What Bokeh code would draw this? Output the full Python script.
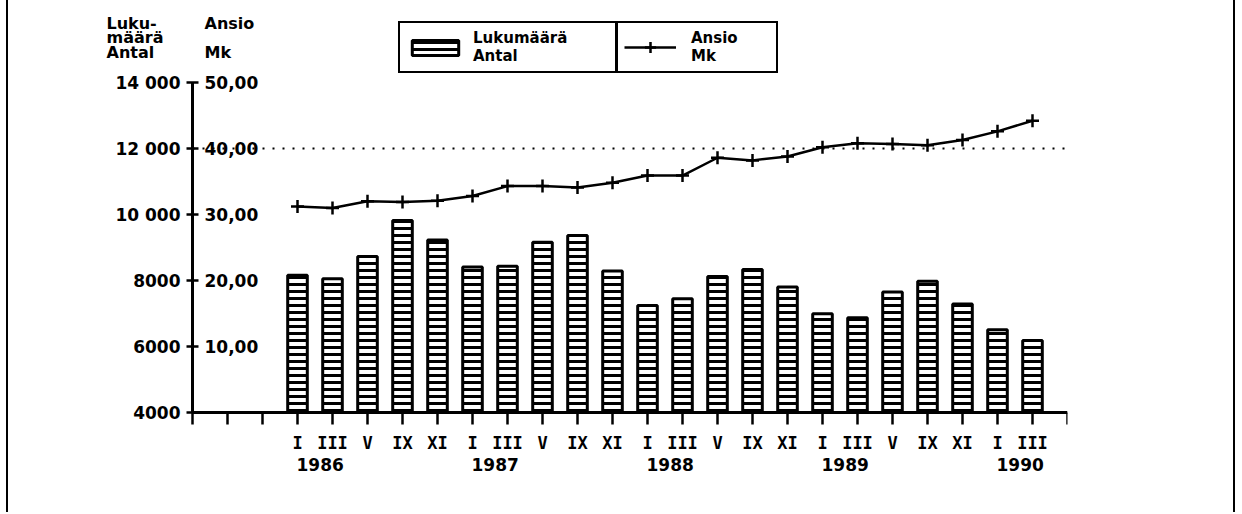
from bokeh.plotting import figure
from bokeh.models import (Range1d, LinearAxis, FixedTicker, Legend, LegendItem,
                          Label, LabelSet, ColumnDataSource)
from bokeh.core.properties import value
from bokeh.embed import file_html
from bokeh.resources import INLINE

# ---------------- data ----------------
months = ["I", "III", "V", "IX", "XI",
          "I", "III", "V", "IX", "XI",
          "I", "III", "V", "IX", "XI",
          "I", "III", "V", "IX", "XI",
          "I", "III"]
years = ["1986", "1987", "1988", "1989", "1990"]
year_start = [0, 5, 10, 15, 20]
lukumaara = [8160, 8050, 8730, 9820, 9230,
             8410, 8430, 9160, 9360, 8290,
             7240, 7450, 8120, 8330, 7800,
             6990, 6870, 7650, 7980, 7290,
             6510, 6180]
ansio = [31.2, 31.0, 32.0, 31.9, 32.1,
         32.8, 34.3, 34.3, 34.1, 34.8,
         35.9, 35.9, 38.6, 38.2, 38.8,
         40.2, 40.8, 40.7, 40.5, 41.3,
         42.6, 44.2]
count_ticks = [4000, 6000, 8000, 10000, 12000, 14000]
count_tick_labels = ["4000", "6000", "8000", "10 000", "12 000", "14 000"]
ansio_ticks = [10, 20, 30, 40, 50]
ansio_tick_labels = ["10,00", "20,00", "30,00", "40,00", "50,00"]
ref_level = 12000

# ---------------- layout ----------------
W, H = 1229, 512
FL = 80            # frame left (canvas px)
AXIS_X = 184       # where the value axis stands (canvas px)
FR = 1059          # frame right
MBB = 40           # bottom border (room for the month axis)
FB = H - MBB       # frame bottom (canvas px)
AXIS_Y = 412       # where the category axis stands (canvas px)
PX_PER_UNIT = 35.0
PX_PER_1000 = 33.0
x_lo, x_hi = -3, len(months)
x_start = x_lo - (AXIS_X - FL) / PX_PER_UNIT
base = 4000
y_start = base - (FB - AXIS_Y) / PX_PER_1000 * 1000
y_top = base + AXIS_Y / PX_PER_1000 * 1000
MK_PER_COUNT = 10.0 / 2000.0

FONT = "DejaVu Sans"
MONO = "DejaVu Sans Mono"


def sy(canvas_y):
    """canvas y (from top) -> annotation screen y (from frame bottom)"""
    return FB - canvas_y


p = figure(width=W, height=H, output_backend="svg", toolbar_location=None,
           x_range=Range1d(x_start, x_hi), y_range=Range1d(y_start, y_top),
           x_axis_type=None, y_axis_type=None,
           min_border_left=FL, min_border_right=W - FR,
           min_border_top=0, min_border_bottom=MBB)
p.extra_y_ranges = {"ansio": Range1d((y_start - base) * MK_PER_COUNT,
                                     (y_top - base) * MK_PER_COUNT)}
p.outline_line_color = None
p.background_fill_color = "white"
p.border_fill_color = "white"
p.styles = {"border-left": "2px solid black", "border-right": "2px solid black",
            "margin-left": "6px"}

xs = list(range(len(months)))
src = ColumnDataSource(dict(x=xs, count=lukumaara, ansio=ansio))

# ---------------- axes ----------------
xticks = list(range(x_lo, x_hi + 1))
xover = {t: "" for t in xticks}
for i, m in enumerate(months):
    xover[i] = m
xaxis = LinearAxis(ticker=FixedTicker(ticks=xticks), bounds=(x_lo, x_hi),
                   major_label_overrides=xover, fixed_location=base)
xaxis.axis_line_width = 3
xaxis.axis_line_color = "black"
xaxis.major_tick_line_width = 2.5
xaxis.major_tick_in = 0
xaxis.major_tick_out = 12
xaxis.minor_tick_line_color = None
xaxis.major_label_standoff = 8
xaxis.major_label_text_font = MONO
xaxis.major_label_text_font_style = "bold"
xaxis.major_label_text_font_size = "17px"
xaxis.major_label_text_color = "black"
p.add_layout(xaxis, "below")

yover = {t: l for t, l in zip(count_ticks, count_tick_labels)}
yaxis = LinearAxis(ticker=FixedTicker(ticks=count_ticks), bounds=(4000, 14000),
                   major_label_overrides=yover, fixed_location=x_lo)
yaxis.axis_line_width = 3
yaxis.axis_line_color = "black"
yaxis.major_tick_line_width = 2.5
yaxis.major_tick_in = 6
yaxis.major_tick_out = 6
yaxis.minor_tick_line_color = None
yaxis.major_label_standoff = 6
yaxis.major_label_text_font = FONT
yaxis.major_label_text_font_style = "bold"
yaxis.major_label_text_font_size = "17px"
yaxis.major_label_text_color = "black"
p.add_layout(yaxis, "left")

# dotted reference line at 12 000 / 40,00, from the value axis to the axis end
p.segment(x0=x_lo, x1=x_hi, y0=ref_level, y1=ref_level, line_color="black",
          line_width=2, line_dash="2 8")

# ---------------- glyphs ----------------
bars = p.vbar(x="x", top="count", bottom=base, width=0.56, source=src,
              fill_color="white", line_color="black", line_width=3,
              hatch_pattern="horizontal_line", hatch_color="black",
              hatch_scale=7, hatch_weight=3)
ln = p.line(x="x", y="ansio", source=src, y_range_name="ansio",
            line_color="black", line_width=2.5)
mk = p.scatter(x="x", y="ansio", source=src, y_range_name="ansio",
               marker="cross", size=13, line_color="black", line_width=2.5)

# ---------------- right-hand (Ansio) tick labels ----------------
asrc = ColumnDataSource(dict(y=ansio_ticks, text=ansio_tick_labels))
p.add_layout(LabelSet(x=x_lo, y="y", text="text", source=asrc, y_range_name="ansio",
                      x_offset=12, text_align="left", text_baseline="middle",
                      text_font=value(FONT), text_font_style="bold",
                      text_font_size="17px", text_color="black"))

# ---------------- year labels ----------------
ysrc = ColumnDataSource(dict(x=year_start, text=years))
p.add_layout(LabelSet(x="x", y=sy(464), y_units="screen", text="text", source=ysrc,
                      x_offset=-1, text_align="left", text_baseline="middle",
                      text_font=value(FONT), text_font_style="bold",
                      text_font_size="17px", text_color="black"))

# ---------------- axis titles ----------------
def title(txt, cx, cy):
    p.add_layout(Label(x=cx - FL, y=sy(cy), x_units="screen", y_units="screen",
                       text=txt, text_align="left", text_baseline="middle",
                       text_font=FONT, text_font_style="bold",
                       text_font_size="16px", text_color="black"))

title("Luku-", 98, 22.5)
title("määrä", 98, 37)
title("Antal", 98, 52)
title("Ansio", 196, 22.5)
title("Mk", 196, 52)

# ---------------- legends ----------------
common = dict(orientation="horizontal", margin=0, padding=6, spacing=0,
              border_line_color="black", border_line_width=2.5, border_line_alpha=1,
              background_fill_color="white", background_fill_alpha=1,
              label_text_font=FONT, label_text_font_style="bold",
              label_text_color="black",
              label_text_font_size="15px", label_text_line_height=0.9,
              label_height=30)
leg1 = Legend(items=[LegendItem(label=value("Lukumäärä\nAntal"), renderers=[bars])],
              location=(390 - FL, sy(73)), glyph_width=58, glyph_height=19,
              label_standoff=9, label_width=136, **common)
leg2 = Legend(items=[LegendItem(label=value("Ansio\nMk"), renderers=[ln, mk])],
              location=(608 - FL, sy(73)), glyph_width=52, glyph_height=28,
              label_standoff=15, label_width=79, **common)
p.add_layout(leg1)
p.add_layout(leg2)

open("out.html", "w").write(file_html(p, INLINE))
